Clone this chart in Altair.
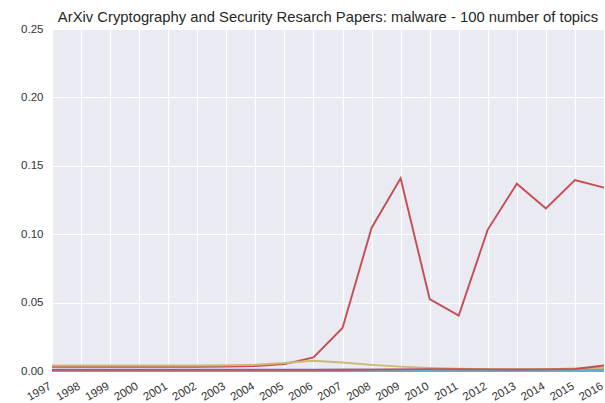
import altair as alt
import pandas as pd

years = list(range(1997, 2017))

topic_blue = [0.0002] * 20
topic_green = [0.0003, 0.0003, 0.0003, 0.0003, 0.0003, 0.0003, 0.0003, 0.0003, 0.0003, 0.0003,
               0.0003, 0.0003, 0.0004, 0.0005, 0.0006, 0.0006, 0.0007, 0.0009, 0.0012, 0.0020]
topic_red = [0.0030, 0.0030, 0.0030, 0.0030, 0.0030, 0.0031, 0.0033, 0.0037, 0.0050, 0.0100,
             0.0315, 0.1046, 0.1408, 0.0526, 0.0405, 0.1034, 0.1369, 0.1188, 0.1395, 0.1340]
topic_purple = [0.0010] * 20
topic_yellow = [0.0040, 0.0040, 0.0040, 0.0040, 0.0040, 0.0040, 0.0042, 0.0046, 0.0058, 0.0075,
                0.0062, 0.0045, 0.0032, 0.0022, 0.0016, 0.0013, 0.0012, 0.0014, 0.0018, 0.0022]
topic_cyan = [0.0004] * 20
topic_red2 = [0.0008, 0.0008, 0.0008, 0.0008, 0.0008, 0.0008, 0.0008, 0.0008, 0.0008, 0.0008,
              0.0009, 0.0010, 0.0012, 0.0014, 0.0013, 0.0012, 0.0011, 0.0012, 0.0015, 0.0040]

series = [
    ("t1", topic_blue, "#4C72B0"),
    ("t2", topic_green, "#55A868"),
    ("t3", topic_red, "#C44E52"),
    ("t4", topic_purple, "#8172B2"),
    ("t5", topic_yellow, "#CCB974"),
    ("t6", topic_cyan, "#64B5CD"),
    ("t7", topic_red2, "#C44E52"),
]

rows = []
for name, vals, _ in series:
    for y, v in zip(years, vals):
        rows.append({"year": y, "value": v, "topic": name})
df = pd.DataFrame(rows)

chart = alt.Chart(df).mark_line(strokeWidth=1.9, clip=False).encode(
    x=alt.X("year:Q",
            scale=alt.Scale(domain=[1997, 2016], nice=False, zero=False),
            axis=alt.Axis(values=years, format="d", title=None, labelAngle=-30,
                          labelAlign="right", labelBaseline="top", tickSize=0,
                          labelPadding=9, labelOffset=-5, domain=False, gridColor="white",
                          gridWidth=1.2, labelFontSize=11.5, labelColor="#333333",
                          labelFont="Liberation Sans")),
    y=alt.Y("value:Q",
            scale=alt.Scale(domain=[0, 0.25], nice=False),
            axis=alt.Axis(values=[0, 0.05, 0.1, 0.15, 0.2, 0.25], format=".2f", title=None,
                          tickSize=0, labelPadding=9, domain=False, gridColor="white",
                          gridWidth=1.2, labelFontSize=11.5, labelColor="#333333",
                          labelFont="Liberation Sans")),
    color=alt.Color("topic:N",
                    scale=alt.Scale(domain=[s[0] for s in series], range=[s[2] for s in series]),
                    legend=None),
).properties(
    width=552,
    height=342,
    title=alt.TitleParams("ArXiv Cryptography and Security Resarch Papers: malware - 100 number of topics",
                          fontSize=14.8, font="Liberation Sans", fontWeight="normal",
                          color="#262626", offset=-2, anchor="middle"),
    autosize=alt.AutoSizeParams(type="none"),
    padding={"left": 52, "top": 29, "right": 1, "bottom": 32},
).configure_view(fill="#EAEAF2", stroke=None)

chart.save("out.html", embed_options={"renderer": "svg", "actions": False})
